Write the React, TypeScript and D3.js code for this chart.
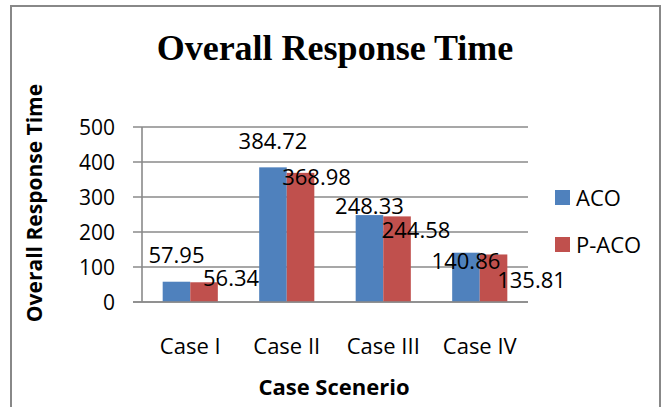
import React, { useRef, useEffect } from 'react';
import * as d3 from 'd3';

// chart data
const categories = ['Case I', 'Case II', 'Case III', 'Case IV'];
const seriesNames = ['ACO', 'P-ACO'];
const acoValues = [57.95, 384.72, 248.33, 140.86];
const pacoValues = [56.34, 368.98, 244.58, 135.81];
const yTicks = [0, 100, 200, 300, 400, 500];
const colors = ['#4F81BD', '#C0504D'];

// hand placed data labels in the original (offset from bar centre / bar top)
const labelDx = [
    [0, 0, 0, 0],
    [27, 16, 19, 38],
];
const labelDy = [
    [-19, -18, -1, 16],
    [4, 12, 22, 34],
];

const FONT = '"Open Sans", "Noto Sans", sans-serif';

const App: React.FC = () => {
    const svgRef = useRef<SVGSVGElement | null>(null);
    const width = 664;
    const height = 407;

    useEffect(() => {
        const svg = d3.select(svgRef.current);
        svg.selectAll('*').remove();

        const margin = { top: 127, right: 136, bottom: 105, left: 142 };
        const plotRight = width - margin.right;
        const plotBottom = height - margin.bottom;

        // outer frame
        svg.append('rect')
            .attr('x', 11)
            .attr('y', 6)
            .attr('width', 649)
            .attr('height', 420)
            .attr('fill', '#fff')
            .attr('stroke', '#888')
            .attr('stroke-width', 2);

        const x0 = d3.scaleBand<string>()
            .domain(categories)
            .range([margin.left, plotRight]);

        const x1 = d3.scaleBand<string>()
            .domain(seriesNames)
            .range([0, x0.bandwidth()])
            .paddingInner(0)
            .paddingOuter(0.75);

        const y = d3.scaleLinear()
            .domain([0, 500])
            .range([plotBottom, margin.top]);

        // gridlines + ticks
        svg.append('g')
            .selectAll('line')
            .data(yTicks)
            .enter()
            .append('line')
            .attr('x1', margin.left - 9)
            .attr('x2', plotRight)
            .attr('y1', d => y(d))
            .attr('y2', d => y(d))
            .style('stroke', '#8a8a8a')
            .style('stroke-width', '1.6px');

        svg.append('line')
            .attr('x1', margin.left)
            .attr('x2', margin.left)
            .attr('y1', y(500))
            .attr('y2', y(0))
            .style('stroke', '#8a8a8a')
            .style('stroke-width', '1.6px');

        svg.append('g')
            .selectAll('text')
            .data(yTicks)
            .enter()
            .append('text')
            .attr('x', margin.left - 27)
            .attr('y', d => y(d))
            .attr('dy', '0.36em')
            .attr('text-anchor', 'end')
            .style('font-family', FONT)
            .style('font-size', '21px')
            .style('fill', '#000')
            .text(d => d);

        const seriesValues = [acoValues, pacoValues];

        // bars
        seriesValues.forEach((values, si) => {
            svg.append('g')
                .selectAll('rect')
                .data(values)
                .enter()
                .append('rect')
                .attr('x', (d, i) => (x0(categories[i]) ?? 0) + (x1(seriesNames[si]) ?? 0))
                .attr('y', d => y(d))
                .attr('width', x1.bandwidth())
                .attr('height', d => y(0) - y(d))
                .attr('fill', colors[si]);
        });

        // bottom axis line drawn over bars
        svg.append('line')
            .attr('x1', margin.left - 9)
            .attr('x2', plotRight)
            .attr('y1', y(0))
            .attr('y2', y(0))
            .style('stroke', '#8a8a8a')
            .style('stroke-width', '1.6px');

        // data labels
        seriesValues.forEach((values, si) => {
            svg.append('g')
                .selectAll('text')
                .data(values)
                .enter()
                .append('text')
                .attr('x', (d, i) => (x0(categories[i]) ?? 0) + (x1(seriesNames[si]) ?? 0) + x1.bandwidth() / 2 + labelDx[si][i])
                .attr('y', (d, i) => y(d) + labelDy[si][i])
                .attr('text-anchor', 'middle')
                .style('font-family', FONT)
                .style('font-size', '22px')
                .style('fill', '#000')
                .text(d => d.toFixed(2));
        });

        // category labels
        svg.append('g')
            .selectAll('text')
            .data(categories)
            .enter()
            .append('text')
            .attr('x', d => (x0(d) ?? 0) + x0.bandwidth() / 2)
            .attr('y', 354)
            .attr('text-anchor', 'middle')
            .style('font-family', FONT)
            .style('font-size', '22px')
            .style('fill', '#000')
            .text(d => d);

        // axis titles
        svg.append('text')
            .attr('x', (margin.left + plotRight) / 2 - 1)
            .attr('y', 395)
            .attr('text-anchor', 'middle')
            .style('font-family', FONT)
            .style('font-weight', 'bold')
            .style('font-size', '22px')
            .text('Case Scenerio');

        svg.append('text')
            .attr('transform', 'translate(42,203) rotate(-90)')
            .attr('text-anchor', 'middle')
            .style('font-family', FONT)
            .style('font-weight', 'bold')
            .style('font-size', '21px')
            .text('Overall Response Time');

        // chart title
        svg.append('text')
            .attr('x', 335)
            .attr('y', 60)
            .attr('text-anchor', 'middle')
            .style('font-family', '"Liberation Serif", "Times New Roman", serif')
            .style('font-weight', 'bold')
            .style('font-size', '36px')
            .text('Overall Response Time');

        // legend
        const legend = svg.append('g')
            .attr('transform', 'translate(555, 190)');

        seriesNames.forEach((name, idx) => {
            const row = legend.append('g')
                .attr('transform', `translate(0, ${idx * 47})`);

            row.append('rect')
                .attr('width', 15)
                .attr('height', 15)
                .attr('fill', colors[idx]);

            row.append('text')
                .attr('x', 21)
                .attr('y', 15.5)
                .style('font-family', FONT)
                .style('font-size', '22px')
                .text(name);
        });
    }, []);

    return (
        <svg
            ref={svgRef}
            width={width}
            height={height}
            style={{ position: 'absolute', left: 0, top: 0, background: '#fff' }}
        ></svg>
    );
};

export default App;
